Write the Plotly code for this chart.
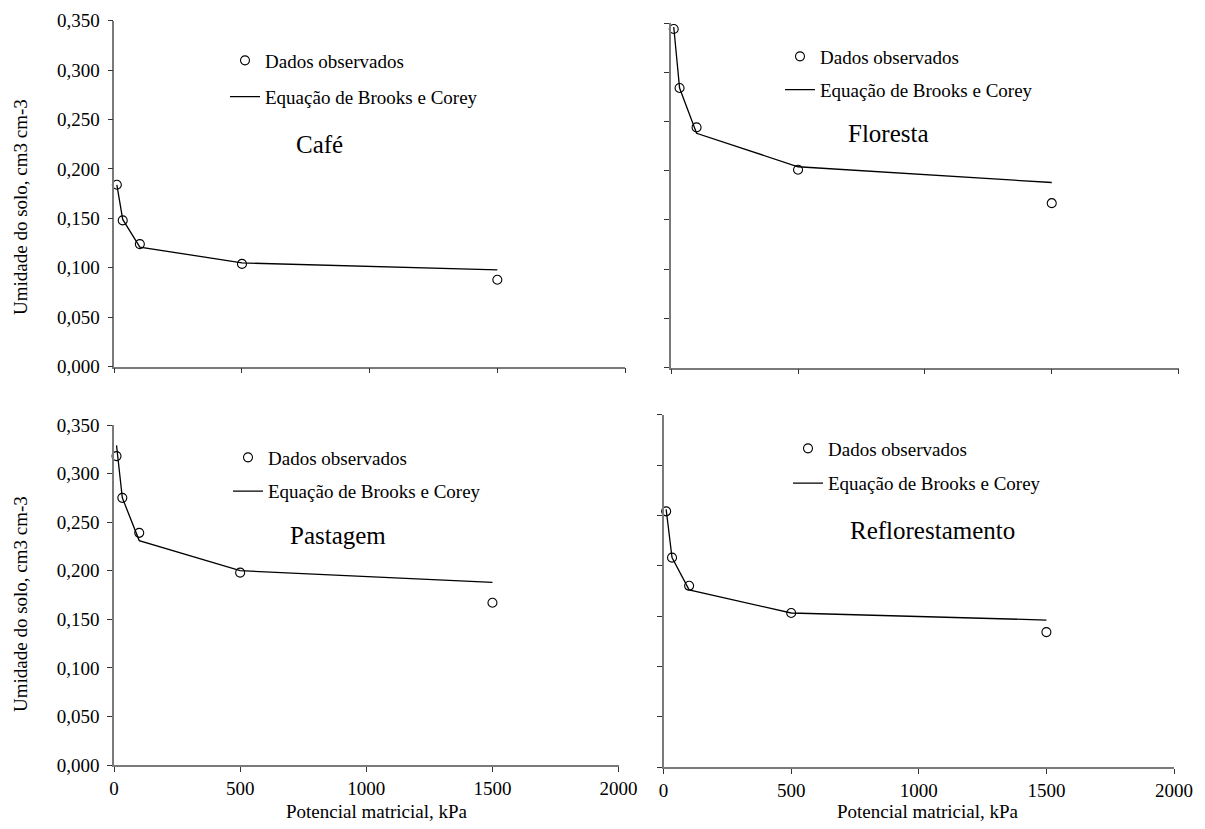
import plotly.graph_objects as go

# ---------------- data ----------------
potencial = [10, 33, 100, 500, 1500]  # kPa

cafe_obs = [0.184, 0.148, 0.124, 0.104, 0.088]
cafe_fit = [0.184, 0.149, 0.121, 0.105, 0.098]

floresta_obs = [0.344, 0.284, 0.244, 0.201, 0.167]
floresta_fit = [0.346, 0.284, 0.238, 0.204, 0.188]

pastagem_obs = [0.318, 0.275, 0.239, 0.198, 0.167]
pastagem_fit = [0.329, 0.275, 0.231, 0.200, 0.188]

reflo_obs = [0.254, 0.208, 0.180, 0.153, 0.134]
reflo_fit = [0.256, 0.208, 0.176, 0.153, 0.146]

panel_names = ["Café", "Floresta", "Pastagem", "Reflorestamento"]
obs_label = "Dados observados"
fit_label = "Equação de Brooks e Corey"
x_title = "Potencial matricial, kPa"
y_title = "Umidade do solo, cm3 cm-3"

x_ticks = [0, 500, 1000, 1500, 2000]
x_ticktext = ["0", "500", "1000", "1500", "2000"]
y_ticks = [0.0, 0.05, 0.10, 0.15, 0.20, 0.25, 0.30, 0.35]
y_ticktext = ["0,000", "0,050", "0,100", "0,150", "0,200", "0,250", "0,300", "0,350"]

# ---------------- layout helpers ----------------
PAGE_W, PAGE_H = 1205, 829
BODY = 8  # default page margin around the plot div
W, H = PAGE_W - BODY, PAGE_H - 2 * BODY
FONT = "'Liberation Serif', 'Times New Roman', Times, serif"


def px(x):
    return (x - BODY) / W


def py(y):
    return 1 - (y - BODY) / H


# panel geometry in page pixels: (x0, x1, ytop, ybottom)
panels = [
    (114.3, 625.0, 20.7, 366.7),
    (671.2, 1178.6, 23.1, 367.5),
    (114.0, 618.6, 425.0, 765.0),
    (663.6, 1174.0, 414.7, 767.0),
]
obs_data = [cafe_obs, floresta_obs, pastagem_obs, reflo_obs]
fit_data = [cafe_fit, floresta_fit, pastagem_fit, reflo_fit]

# legend positions (left px, top px, item gap) and panel label centers
legend_pos = [(225, 41.5, 8.5), (780, 37.5, 5.5), (228, 438.5, 6), (788, 429.5, 7)]
label_pos = [(319, 145), (888, 133), (338, 535), (932, 530)]

fig = go.Figure()
layout = dict(
    template="none",
    width=W, height=H, autosize=False,
    margin=dict(l=0, r=0, t=0, b=0, pad=0),
    paper_bgcolor="white", plot_bgcolor="white",
    font=dict(family=FONT, size=19, color="black"),
    showlegend=True,
    annotations=[],
)

for i in range(4):
    n = "" if i == 0 else str(i + 1)
    xa, ya = "x" + n, "y" + n
    leg = "legend" + n
    x0, x1, yt, yb = panels[i]
    fig.add_trace(go.Scatter(
        x=potencial, y=fit_data[i], mode="lines", name=fit_label,
        line=dict(color="black", width=1.3), xaxis=xa, yaxis=ya,
        legend=leg, legendgroup=f"fit{i}", legendrank=2, cliponaxis=False))
    fig.add_trace(go.Scatter(
        x=potencial, y=obs_data[i], mode="markers", name=obs_label,
        marker=dict(symbol="circle-open", size=9, color="black",
                    line=dict(width=1.1)),
        xaxis=xa, yaxis=ya, legend=leg, legendgroup=f"obs{i}",
        legendrank=1, cliponaxis=False))

    bottom = i >= 2
    left = i % 2 == 0
    layout["xaxis" + n] = dict(
        domain=[px(x0), px(x1)], range=[0, 2000], anchor=ya,
        automargin=False, ticklabeloverflow="allow",
        showline=True, linecolor="#7a7a7a", linewidth=1.5,
        ticks="outside", ticklen=5, tickcolor="#333", tickwidth=1,
        tickvals=x_ticks, ticktext=x_ticktext, showticklabels=bottom,
        showgrid=False, zeroline=False, ticklabelstandoff=0,
        tickfont=dict(family=FONT, size=19, color="black"),
    )
    layout["yaxis" + n] = dict(
        domain=[py(yb), py(yt)], range=[0, 0.35], anchor=xa,
        automargin=False, ticklabeloverflow="allow",
        showline=True, linecolor="#7a7a7a", linewidth=1.5,
        ticks="outside", ticklen=5, tickcolor="#333", tickwidth=1,
        tickvals=y_ticks, ticktext=y_ticktext, showticklabels=left,
        showgrid=False, zeroline=False, ticklabelstandoff=4,
        tickfont=dict(family=FONT, size=19, color="black"),
    )
    lx, ly, gap = legend_pos[i]
    layout[leg] = dict(
        x=px(lx), y=py(ly), xanchor="left", yanchor="top",
        bgcolor="rgba(0,0,0,0)", borderwidth=0,
        font=dict(family=FONT, size=19, color="black"),
        traceorder="grouped", tracegroupgap=gap, itemclick=False,
    )
    cx, cy = label_pos[i]
    layout["annotations"].append(dict(
        text=panel_names[i], x=px(cx), y=py(cy), xref="paper", yref="paper",
        showarrow=False, xanchor="center", yanchor="middle",
        font=dict(family=FONT, size=25, color="black")))

# axis titles
for cy in (207, 604):
    layout["annotations"].append(dict(
        text=y_title, x=px(20), y=py(cy), xref="paper", yref="paper",
        showarrow=False, textangle=-90, xanchor="center", yanchor="middle",
        font=dict(family=FONT, size=19, color="black")))
for cx in (377, 928):
    layout["annotations"].append(dict(
        text=x_title, x=px(cx), y=py(811), xref="paper", yref="paper",
        showarrow=False, xanchor="center", yanchor="middle",
        font=dict(family=FONT, size=19, color="black")))

fig.update_layout(**layout)
fig.write_html(
    "out.html",
    post_script=(
        "document.documentElement.style.overflow='hidden';"
        "document.body.style.overflow='hidden';"
    ),
)
